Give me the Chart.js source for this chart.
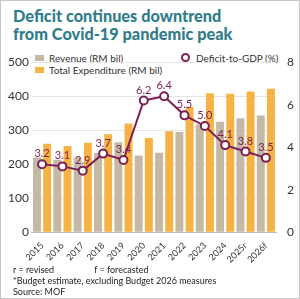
<!DOCTYPE html>
<html>
<head>
<meta charset="utf-8">
<script src="https://cdn.jsdelivr.net/npm/chart.js@4"></script>
<style>
  body { margin: 0; background: #fff; font-family: Lato, sans-serif; }
  #frame { position: relative; width: 298px; height: 297px; border: 1px solid #c8c8c8; overflow: hidden; }
  #title { position: absolute; left: 12px; top: 6px; font-weight: 900; font-size: 16.3px; line-height: 18px; color: #2f7d8b; }
  .lg { position: absolute; font-size: 10px; color: #333; white-space: nowrap; }
  .sw { display: inline-block; width: 9px; height: 6px; margin-right: 5px; vertical-align: 1px; }
  .mk { display: inline-block; width: 5px; height: 5px; border: 2px solid #7b1f55; border-radius: 50%; margin-right: 6px; vertical-align: 0px; }
  #wrap { position: absolute; left: 0; top: 51px; width: 298px; height: 213px; }
  .ft { position: absolute; left: 12px; font-size: 9px; color: #222; white-space: nowrap; }
</style>
</head>
<body>
<div id="frame">
  <div id="title">Deficit continues downtrend<br>from Covid-19 pandemic peak</div>
  <div class="lg" style="left:34px;top:51px"><span class="sw" style="background:#c4b9a4"></span>Revenue (RM bil)</div>
  <div class="lg" style="left:34px;top:63px"><span class="sw" style="background:#f7b244"></span>Total Expenditure (RM bil)</div>
  <div class="lg" style="left:180px;top:51px"><span class="mk"></span>Deficit-to-GDP (%)</div>
  <div id="wrap"><canvas id="c"></canvas></div>
  <div class="ft" style="top:263px">r = revised<span style="margin-left:40px">f = forecasted</span></div>
  <div class="ft" style="top:274px">*Budget estimate, excluding Budget 2026 measures</div>
  <div class="ft" style="top:285px">Source: MOF</div>
</div>
<script>
const years = ['2015', '2016', '2017', '2018', '2019', '2020', '2021', '2022', '2023', '2024', '2025r', '2026f']
const revenue = [220, 213, 220, 233, 265, 226, 234, 295, 317, 325, 335, 343]
const expenditure = [260, 254, 263, 288, 320, 277, 297, 368, 409, 407, 414, 422]
const deficit = [3.2, 3.1, 2.9, 3.7, 3.4, 6.2, 6.4, 5.5, 5.0, 4.1, 3.8, 3.5]

const plum = '#7b1f55'

// labels above the deficit markers
const pointLabels = {
  id: 'pointLabels',
  afterDatasetsDraw(chart) {
    const ctx = chart.ctx
    const meta = chart.getDatasetMeta(0)
    ctx.save()
    ctx.font = '11px Lato'
    ctx.fillStyle = plum
    ctx.textAlign = 'center'
    ctx.textBaseline = 'bottom'
    meta.data.forEach((pt, i) => {
      ctx.fillText(deficit[i].toFixed(1), pt.x, pt.y - 5)
    })
    ctx.restore()
  }
}

new Chart(document.getElementById('c'), {
  type: 'bar',
  data: {
    labels: years,
    datasets: [
      {
        type: 'line',
        label: 'Deficit-to-GDP (%)',
        data: deficit,
        yAxisID: 'y2',
        borderColor: plum,
        borderWidth: 2,
        backgroundColor: '#fff',
        pointRadius: 4,
        pointBorderWidth: 2,
        pointBackgroundColor: '#fff',
        pointBorderColor: plum,
        order: 0
      },
      {
        label: 'Revenue (RM bil)',
        data: revenue,
        backgroundColor: '#c4b9a4',
        barPercentage: 0.78,
        categoryPercentage: 1,
        order: 1
      },
      {
        label: 'Total Expenditure (RM bil)',
        data: expenditure,
        backgroundColor: '#f7b244',
        barPercentage: 0.78,
        categoryPercentage: 1,
        order: 1
      }
    ]
  },
  options: {
    responsive: true,
    maintainAspectRatio: false,
    animation: false,
    layout: { padding: { top: 10, left: 4, right: 2 } },
    plugins: { legend: { display: false }, tooltip: { enabled: false } },
    scales: {
      x: {
        grid: { display: false },
        border: { color: '#bbb' },
        ticks: { autoSkip: false, maxRotation: 45, minRotation: 45, color: '#333', font: { family: 'Lato', size: 9 }, padding: 0 }
      },
      y: {
        min: 0, max: 500,
        ticks: { stepSize: 100, color: '#333', font: { family: 'Lato', size: 12 } },
        grid: { color: '#e4e4e4', drawTicks: false },
        border: { display: false }
      },
      y2: {
        position: 'right',
        min: 0, max: 8,
        ticks: { stepSize: 2, color: '#333', font: { family: 'Lato', size: 12 } },
        grid: { display: false },
        border: { display: false }
      }
    }
  },
  plugins: [pointLabels]
})
</script>
</body>
</html>
